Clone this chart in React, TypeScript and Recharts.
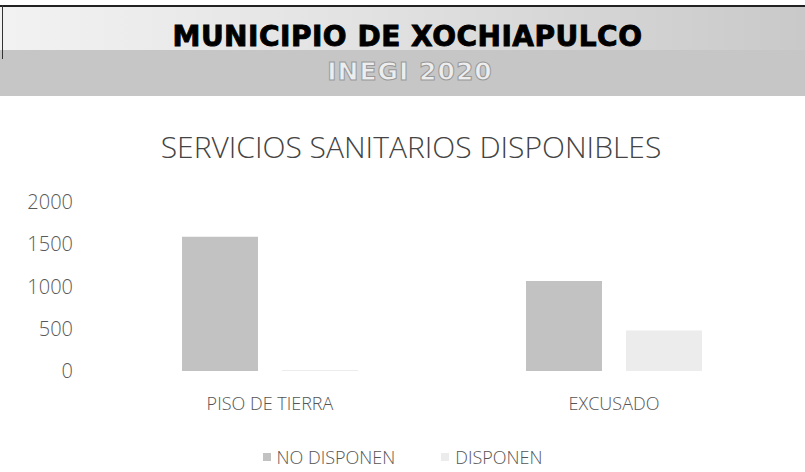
import React from "react";
import { Bar, BarChart, Legend, XAxis, YAxis } from "recharts";

const categories = ["PISO DE TIERRA", "EXCUSADO"];
const noDisponen = [1590, 1065];
const disponen = [12, 480];
const yTicks = [0, 500, 1000, 1500, 2000];

const seriesNames = ["NO DISPONEN", "DISPONEN"];
const seriesColors = ["#c2c2c2", "#ececec"];

const data = categories.map((name, i) => ({
  name,
  noDisponen: noDisponen[i],
  disponen: disponen[i],
}));

const font = "'Open Sans', 'Noto Sans', sans-serif";

function LegendContent() {
  return (
    <div
      style={{
        width: 805,
        display: "flex",
        justifyContent: "center",
        paddingTop: 13,
        fontFamily: font,
        fontWeight: 300,
        fontSize: 18,
        color: "#555",
      }}
    >
      {seriesNames.map((n, i) => (
        <div
          key={n}
          style={{ display: "flex", alignItems: "center", marginRight: i === 0 ? 46 : 0 }}
        >
          <span
            style={{
              width: 8,
              height: 8,
              background: seriesColors[i],
              marginRight: 6,
              display: "inline-block",
            }}
          />
          <span>{n}</span>
        </div>
      ))}
    </div>
  );
}

export default function App() {
  return (
    <div
      style={{
        position: "absolute",
        left: 0,
        top: 0,
        width: 805,
        height: 472,
        background: "#fff",
        overflow: "hidden",
      }}
    >
      {/* banner, grey scan look */}
      <div
        style={{
          position: "absolute",
          left: 0,
          top: 5,
          width: 805,
          height: 45,
          borderTop: "2px solid #222",
          background: "linear-gradient(90deg, #f2f2f2 0%, #e2e2e2 45%, #c9c9c9 100%)",
        }}
      />
      <div
        style={{
          position: "absolute",
          left: 0,
          top: 50,
          width: 805,
          height: 46,
          background: "#c6c6c6",
        }}
      />
      <div
        style={{ position: "absolute", left: 2, top: 5, width: 1, height: 54, background: "#333" }}
      />
      <div
        style={{
          position: "absolute",
          left: 0,
          top: 20,
          width: 815,
          textAlign: "center",
          fontFamily: "'DejaVu Sans', sans-serif",
          fontWeight: 700,
          fontSize: 28,
          letterSpacing: 0.5,
          color: "#000",
          WebkitTextStroke: "0.9px #000",
        }}
      >
        MUNICIPIO DE XOCHIAPULCO
      </div>
      <div
        style={{
          position: "absolute",
          left: 0,
          top: 57,
          width: 820,
          textAlign: "center",
          fontFamily: "'DejaVu Sans', sans-serif",
          fontWeight: 700,
          fontSize: 25,
          letterSpacing: 1,
          color: "#ededed",
          WebkitTextStroke: "1px #999",
        }}
      >
        INEGI 2020
      </div>
      <div
        style={{
          position: "absolute",
          left: 0,
          top: 126,
          width: 822,
          textAlign: "center",
          fontFamily: font,
          fontWeight: 300,
          fontSize: 30,
          color: "#444",
        }}
      >
        SERVICIOS SANITARIOS DISPONIBLES
      </div>

      <div style={{ position: "absolute", left: 0, top: 0 }}>
        <BarChart
          width={805}
          height={472}
          data={data}
          margin={{ top: 202, right: 19, bottom: 0, left: 0 }}
          barCategoryGap={84}
          barGap={24}
        >
          <XAxis
            dataKey="name"
            axisLine={false}
            tickLine={false}
            tickSize={0}
            tickMargin={26}
            height={61}
            tick={{ fontFamily: font, fontWeight: 300, fontSize: 18, fill: "#555" }}
          />
          <YAxis
            domain={[0, 2000]}
            ticks={yTicks}
            axisLine={false}
            tickLine={false}
            tickSize={0}
            tickMargin={25}
            width={98}
            tick={{ fontFamily: font, fontWeight: 300, fontSize: 20, fill: "#595959" }}
          />
          <Legend
            verticalAlign="bottom"
            height={40}
            wrapperStyle={{ left: 0, width: 805 }}
            content={() => <LegendContent />}
          />
          <Bar
            dataKey="noDisponen"
            name={seriesNames[0]}
            fill={seriesColors[0]}
            isAnimationActive={false}
          />
          <Bar
            dataKey="disponen"
            name={seriesNames[1]}
            fill={seriesColors[1]}
            isAnimationActive={false}
          />
        </BarChart>
      </div>
    </div>
  );
}
